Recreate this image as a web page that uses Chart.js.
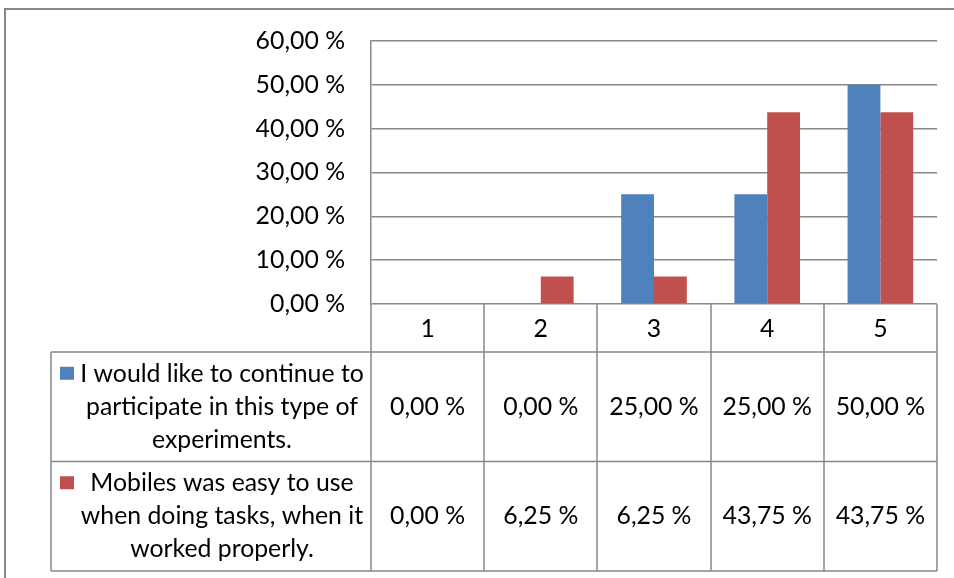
<!DOCTYPE html>
<html>
<head>
<meta charset="utf-8">
<script src="https://cdn.jsdelivr.net/npm/chart.js@4.4.0/dist/chart.umd.min.js"></script>
<style>
  body { margin: 0; background: #fff; }
  canvas { display: block; }
</style>
</head>
<body>
<canvas id="myChart" width="954" height="578"></canvas>
<script>
const categories = ['1', '2', '3', '4', '5'];
const continueValues = [0, 0, 25, 25, 50];
const easyValues = [0, 6.25, 6.25, 43.75, 43.75];
const continueLines = ['I would like to continue to', 'participate in this type of', 'experiments.'];
const easyLines = ['Mobiles was easy to use', 'when doing tasks, when it', 'worked properly.'];
const yTicks = [0, 10, 20, 30, 40, 50, 60];

const lineColor = '#888888';
const fontFamily = 'Lato, sans-serif';
const fontSize = 24.8;

function pct(v) {
    return v.toFixed(2).replace('.', ',') + ' %';
}

// outer frame and the data table under the plot
const dataTable = {
    id: 'dataTable',
    beforeDraw(chart) {
        const ctx = chart.ctx;
        ctx.save();
        ctx.strokeStyle = lineColor;
        ctx.lineWidth = 2;
        ctx.beginPath();
        ctx.moveTo(5, 578);
        ctx.lineTo(5, 9);
        ctx.lineTo(954, 9);
        ctx.stroke();
        ctx.restore();
    },
    afterDraw(chart) {
        const ctx = chart.ctx;
        const area = chart.chartArea;
        const x = chart.scales.x;
        const rows = [area.bottom, area.bottom + 48, area.bottom + 157.5, area.bottom + 267];
        const keyCellLeft = 51;
        const catW = (area.right - area.left) / categories.length;

        ctx.save();
        ctx.strokeStyle = lineColor;
        ctx.lineWidth = 1.5;
        ctx.beginPath();
        for (let i = 1; i < rows.length; i++) {
            ctx.moveTo(keyCellLeft, rows[i]);
            ctx.lineTo(area.right, rows[i]);
        }
        for (let i = 0; i <= categories.length; i++) {
            const bx = Math.round(area.left + i * catW);
            ctx.moveTo(bx, rows[0]);
            ctx.lineTo(bx, rows[3]);
        }
        ctx.moveTo(keyCellLeft, rows[1]);
        ctx.lineTo(keyCellLeft, rows[3]);
        ctx.stroke();

        ctx.fillStyle = '#000';
        ctx.font = fontSize + 'px ' + fontFamily;
        ctx.textBaseline = 'middle';
        ctx.textAlign = 'center';

        const lineH = 33;
        const textCx = (keyCellLeft + area.left) / 2 + 11;
        chart.data.datasets.forEach((ds, r) => {
            const cy = (rows[r + 1] + rows[r + 2]) / 2;
            const firstY = cy - lineH;
            ds.lines.forEach((t, k) => {
                ctx.fillText(t, textCx, firstY + k * lineH);
            });
            ctx.fillStyle = ds.backgroundColor;
            ctx.fillRect(60, firstY - 7, 14, 13);
            ctx.fillStyle = '#000';
            ds.data.forEach((v, i) => {
                ctx.fillText(pct(v), x.getPixelForValue(i), cy);
            });
        });
        ctx.restore();
    }
};

new Chart('myChart', {
    type: 'bar',
    data: {
        labels: categories,
        datasets: [{
            label: continueLines.join(' '),
            lines: continueLines,
            data: continueValues,
            backgroundColor: '#4F81BD'
        }, {
            label: easyLines.join(' '),
            lines: easyLines,
            data: easyValues,
            backgroundColor: '#C0504D'
        }]
    },
    options: {
        responsive: false,
        animation: false,
        categoryPercentage: 0.58,
        barPercentage: 1,
        layout: { padding: { left: 0, right: 17, top: 40, bottom: 0 } },
        plugins: {
            legend: { display: false },
            tooltip: { enabled: false }
        },
        scales: {
            x: {
                grid: { display: false },
                border: { display: false },
                ticks: { color: '#000', font: { family: fontFamily, size: fontSize }, padding: 2 },
                afterFit(scale) { scale.height = 274; }
            },
            y: {
                min: 0,
                max: 60,
                afterBuildTicks(scale) { scale.ticks = yTicks.map(v => ({ value: v })); },
                grid: { color: lineColor, lineWidth: 1.5, drawTicks: false },
                border: { color: lineColor, width: 1.5 },
                ticks: {
                    color: '#000',
                    font: { family: fontFamily, size: fontSize },
                    padding: 26,
                    callback: v => pct(v)
                },
                afterFit(scale) { scale.width = 371; }
            }
        }
    },
    plugins: [dataTable]
});
</script>
</body>
</html>
